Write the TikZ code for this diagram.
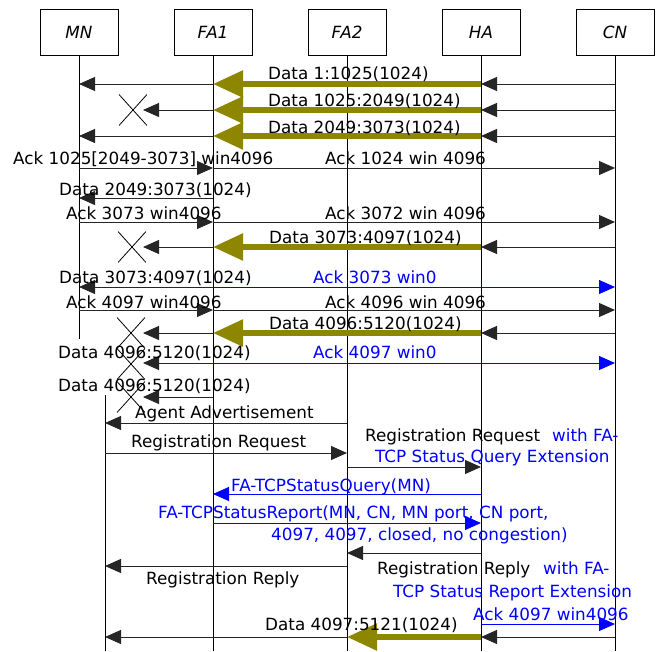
\documentclass[tikz,border=0pt]{standalone}
\usepackage{fontspec}
\setmainfont{DejaVu Sans}
\usepackage{xcolor}
\usepackage{tikz}
\usetikzlibrary{arrows.meta,shapes.misc}

\begin{document}
\begin{tikzpicture}[
  x=1pt,y=-1pt,
  font=\fontsize{16.8pt}{20pt}\selectfont,
  ent/.style={draw,line width=0.8pt,minimum width=78pt,minimum height=46pt,inner sep=0pt,font=\fontsize{16.8pt}{20pt}\selectfont\itshape},
  life/.style={line width=0.8pt},
  msg/.style={-{Triangle[length=16pt,width=14pt]},line width=1pt,black!85},
  fwd/.style={-{Triangle[length=30pt,width=26pt]},line width=5.5pt,olive},
  blu/.style={msg,blue},
  lbl/.style={anchor=base west,inner sep=0pt},
  blbl/.style={lbl,text=blue},
  lost/.style={cross out,draw,line width=0.8pt,inner sep=0pt,minimum width=27pt,minimum height=30pt}
]
\useasboundingbox (0,0) rectangle (664,651);

% entities and lifelines
\node[ent] (MN)  at (79,32)  {MN};
\node[ent] (FA1) at (213,32) {FA1};
\node[ent] (FA2) at (347,32) {FA2};
\node[ent] (HA)  at (481,32) {HA};
\node[ent] (CN)  at (615,32) {CN};
\coordinate (MNend) at (79,339);
\coordinate (MN2) at (105,395);
\draw[life] (MN.south) -- (MNend);
\draw[life] (MN2) -- (MN2 |- 0,651);
\draw[life] (FA1.south) -- (FA1.south |- 0,651);
\draw[life] (FA2.south) -- (FA2.south |- 0,651);
\draw[life] (HA.south) -- (HA.south |- 0,651);
\draw[life] (CN.south) -- (CN.south |- 0,651);

% first window
\draw[msg] (CN |- 0,84) -- (HA |- 0,84);
\draw[fwd] (HA |- 0,84) -- (FA1 |- 0,84);
\draw[msg] (FA1 |- 0,84) -- (MN |- 0,84);
\node[lbl] (d1) at (268,79) {Data 1:1025(1024)};

\node[lost] (x1) at (133,110) {};
\coordinate (l1) at (143,110);
\draw[msg] (CN |- l1) -- (HA |- l1);
\draw[fwd] (HA |- l1) -- (FA1 |- l1);
\draw[msg] (FA1 |- l1) -- (l1);
\node[lbl] (d2) at (268,106) {Data 1025:2049(1024)};

\draw[msg] (CN |- 0,136) -- (HA |- 0,136);
\draw[fwd] (HA |- 0,136) -- (FA1 |- 0,136);
\draw[msg] (FA1 |- 0,136) -- (MN |- 0,136);
\node[lbl] (d3) at (268,133) {Data 2049:3073(1024)};

% acks
\draw[msg] (MN |- 0,168) -- (FA1 |- 0,168);
\draw[msg] (FA1 |- 0,168) -- (CN |- 0,168);
\node[lbl] (a1) at (13,164) {Ack 1025[2049-3073] win4096};
\node[lbl] (a2) at (325,164) {Ack 1024 win 4096};

\draw[msg] (FA1 |- 0,198) -- (MN |- 0,198);
\node[lbl] (d4) at (59,195) {Data 2049:3073(1024)};

\draw[msg] (MN |- 0,222) -- (FA1 |- 0,222);
\draw[msg] (FA1 |- 0,222) -- (CN |- 0,222);
\node[lbl] (a3) at (66,219) {Ack 3073 win4096};
\node[lbl] (a4) at (325,219) {Ack 3072 win 4096};

\node[lost] (x2) at (132,247) {};
\coordinate (l2) at (143,247);
\draw[msg] (CN |- l2) -- (HA |- l2);
\draw[fwd] (HA |- l2) -- (FA1 |- l2);
\draw[msg] (FA1 |- l2) -- (l2);
\node[lbl] (d5) at (269,243) {Data 3073:4097(1024)};

\draw[msg] (FA1 |- 0,287) -- (MN |- 0,287);
\draw[blu] (FA1 |- 0,287) -- (CN |- 0,287);
\node[lbl] (d6) at (59,283) {Data 3073:4097(1024)};
\node[blbl] (a5) at (313,283) {Ack 3073 win0};

\draw[msg] (MN |- 0,310) -- (FA1 |- 0,310);
\draw[msg] (FA1 |- 0,310) -- (CN |- 0,310);
\node[lbl] (a6) at (66,308) {Ack 4097 win4096};
\node[lbl] (a7) at (325,308) {Ack 4096 win 4096};

% handoff: packets lost
\node[lost] (x3) at (131,333) {};
\coordinate (l3) at (143,333);
\draw[msg] (CN |- l3) -- (HA |- l3);
\draw[fwd] (HA |- l3) -- (FA1 |- l3);
\draw[msg] (FA1 |- l3) -- (l3);
\node[lbl] (d7) at (269,329) {Data 4096:5120(1024)};

\node[lost] (x4) at (131,364) {};
\coordinate (l4) at (143,363);
\draw[msg] (FA1 |- l4) -- (l4);
\draw[blu] (FA1 |- l4) -- (CN |- l4);
\node[lbl] (d8) at (58,358) {Data 4096:5120(1024)};
\node[blbl] (a8) at (313,358) {Ack 4097 win0};

\node[lost] (x5) at (131,397) {};
\coordinate (l5) at (143,397);
\draw[msg] (FA1 |- l5) -- (l5);
\node[lbl] (d9) at (58,391) {Data 4096:5120(1024)};

% registration
\draw[msg] (FA2 |- 0,423) -- (MN2 |- 0,423);
\node[lbl] (r1) at (135,418) {Agent Advertisement};

\draw[msg] (MN2 |- 0,453) -- (FA2 |- 0,453);
\node[lbl] (r2) at (131,447) {Registration Request};

\draw[msg] (FA2 |- 0,467) -- (HA |- 0,467);
\node[lbl] (r3) at (365,441) {Registration Request};
\node[blbl] (r3b) at (552,441) {with FA-};
\node[blbl] (r3c) at (375,462) {TCP Status Query Extension};

\draw[blu] (HA |- 0,494) -- (FA1 |- 0,494);
\node[blbl] (q1) at (231,491) {FA-TCPStatusQuery(MN)};

\draw[blu] (FA1 |- 0,523) -- (HA |- 0,523);
\node[blbl] (q2) at (158,518) {FA-TCPStatusReport(MN, CN, MN port, CN port,};
\node[blbl] (q2b) at (271,540) {4097, 4097, closed, no congestion)};

\draw[msg] (HA |- 0,553) -- (FA2 |- 0,553);
\node[lbl] (r4) at (377,574) {Registration Reply};
\node[blbl] (r4b) at (543,574) {with FA-};
\node[blbl] (r4c) at (393,597) {TCP Status Report Extension};

\draw[msg] (FA2 |- 0,566) -- (MN2 |- 0,566);
\node[lbl] (r5) at (146,584) {Registration Reply};

% resume
\draw[blu] (HA |- 0,624) -- (CN |- 0,624);
\node[blbl] (a9) at (473,620) {Ack 4097 win4096};

\draw[msg] (CN |- 0,637) -- (HA |- 0,637);
\draw[fwd] (HA |- 0,637) -- (FA2 |- 0,637);
\draw[msg] (FA2 |- 0,637) -- (MN2 |- 0,637);
\node[lbl] (d10) at (265,630) {Data 4097:5121(1024)};
\end{tikzpicture}
\end{document}
